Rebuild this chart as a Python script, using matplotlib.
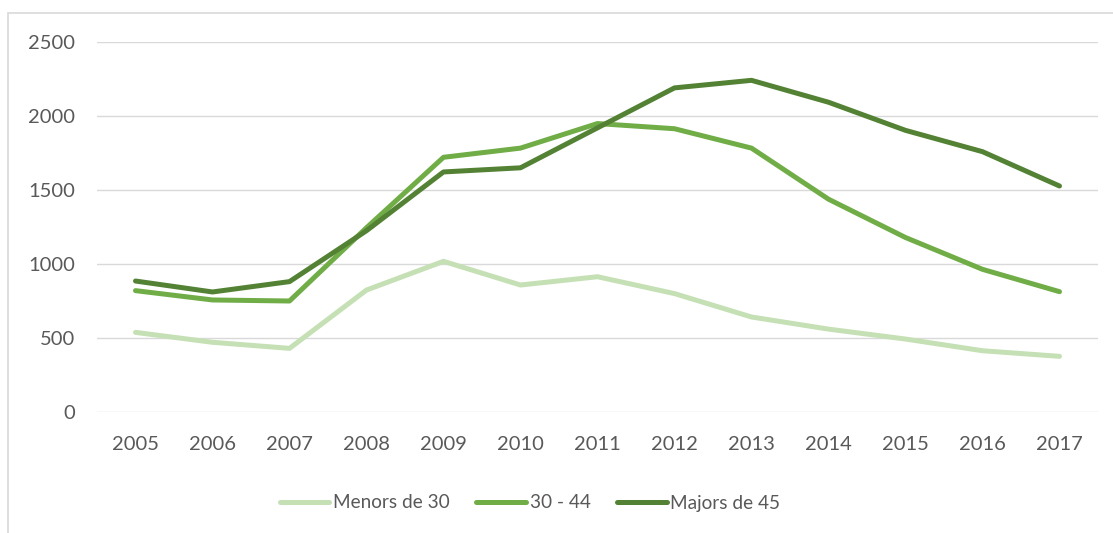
import matplotlib
matplotlib.use("Agg")
import matplotlib.pyplot as plt
from matplotlib.patches import Rectangle

plt.rcParams['font.family'] = ['Lato', 'DejaVu Sans']

# dades
anys = ['2005', '2006', '2007', '2008', '2009', '2010', '2011',
        '2012', '2013', '2014', '2015', '2016', '2017']
menors_30 = [538, 471, 430, 824, 1018, 858, 914, 800, 642, 560, 493, 414, 376]
de_30_44 = [820, 757, 750, 1245, 1721, 1783, 1949, 1914, 1783, 1438, 1179, 964, 813]
majors_45 = [885, 811, 881, 1225, 1622, 1650, 1920, 2190, 2241, 2093, 1903, 1759, 1527]

noms = ['Menors de 30', '30 - 44', 'Majors de 45']
colors = ['#C5E0B4', '#70AD47', '#548235']
gris = '#595959'

fig = plt.figure(figsize=(11.13, 5.33), dpi=100)
ax = fig.add_axes([97 / 1113, 1 - 412 / 533, 1001 / 1113, 370 / 533])

# marc del grafic
fig.patches.append(Rectangle((8 / 1113, -0.2), 2, 1.2 - 13 / 533,
                             transform=fig.transFigure, fill=False,
                             edgecolor='#D9D9D9', linewidth=1.2))

x = range(len(anys))
for serie, nom, c in zip([menors_30, de_30_44, majors_45], noms, colors):
    ax.plot(x, serie, color=c, linewidth=3.6, label=nom,
            solid_capstyle='round', solid_joinstyle='round')

ax.set_xlim(-0.5, len(anys) - 0.5)
ax.set_ylim(0, 2500)
ax.set_yticks(range(0, 2501, 500))
ax.set_xticks(list(x))
ax.set_xticklabels(anys)
ax.grid(axis='y', color='#D9D9D9', linewidth=1)
ax.set_axisbelow(True)
for s in ax.spines.values():
    s.set_visible(False)
ax.tick_params(length=0, labelsize=14.5, labelcolor=gris)
ax.tick_params(axis='y', pad=16)
ax.tick_params(axis='x', pad=17.5)

leg = fig.legend(loc='center', bbox_to_anchor=(530 / 1113, 1 - 503 / 533), ncol=3,
                 frameon=False, fontsize=13.7, handlelength=2.6,
                 handletextpad=0.2, columnspacing=1.4)
for t in leg.get_texts():
    t.set_color(gris)

fig.savefig('out.png', dpi=100)
